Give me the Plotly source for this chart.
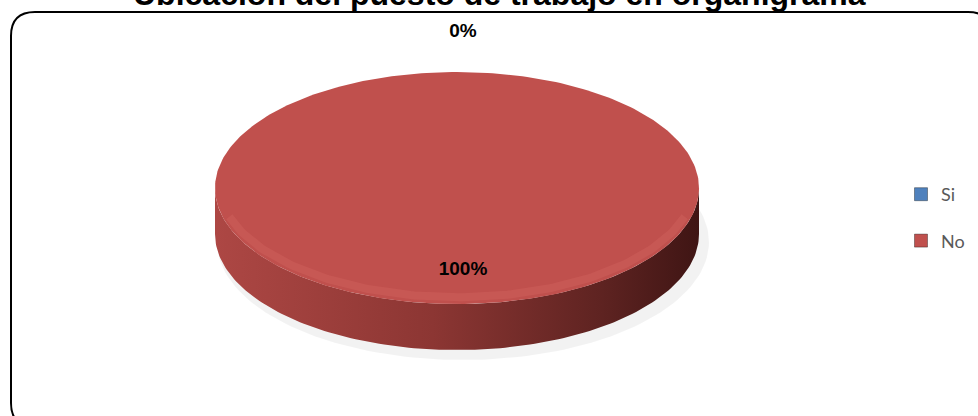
import numpy as np
import plotly.graph_objects as go

# ---- data ----
title_text = "Ubicación del puesto de trabajo en organigrama"
categories = ["Si", "No"]
values = [0, 100]
top_colors = ["#4F81BD", "#C0504D"]
side_scales = [
    [[0, "#5f8cc4"], [0.5, "#3d6799"], [1, "#1f3a5c"]],
    [[0, "#ad4744"], [0.45, "#8c3633"], [0.8, "#5e2321"], [1, "#3f1514"]],
]

# ---- geometry (pixel space) ----
W, H = 978, 416
cx, cy, rx, ry, depth = 457, 188, 242, 116, 46


def pt(theta, dy=0.0, scale=1.0):
    # theta: radians clockwise from 12 o'clock
    return cx + scale * rx * np.sin(theta), cy + dy - scale * ry * np.cos(theta)


fig = go.Figure()

total = float(sum(values))
fracs = [v / total for v in values]
starts = np.concatenate([[0.0], np.cumsum(fracs)[:-1]]) * 2 * np.pi
ends = np.cumsum(fracs) * 2 * np.pi

# soft shadow under the pie
sh = np.linspace(0, 2 * np.pi, 200)
fig.add_trace(go.Scatter(
    x=cx + 6 + (rx + 4) * np.sin(sh), y=cy + depth + 8 - (ry + 2) * np.cos(sh),
    fill="toself", fillcolor="rgba(0,0,0,0.05)", line=dict(width=0),
    mode="lines", hoverinfo="skip", showlegend=False))

# side walls (front half only: theta in [pi/2, 3pi/2])
for i, (a, b) in enumerate(zip(starts, ends)):
    lo, hi = max(a, np.pi / 2), min(b, 3 * np.pi / 2)
    if hi <= lo:
        continue
    t = np.linspace(lo, hi, 150)
    xt, yt = pt(t)
    xb, yb = pt(t[::-1], dy=depth)
    fig.add_trace(go.Scatter(
        x=np.concatenate([xt, xb, xt[:1]]), y=np.concatenate([yt, yb, yt[:1]]),
        fill="toself", mode="lines", line=dict(width=0),
        fillgradient=dict(type="horizontal", colorscale=side_scales[i]),
        hoverinfo="skip", showlegend=False))

# top faces
for i, (a, b) in enumerate(zip(starts, ends)):
    if b - a <= 0:
        continue
    t = np.linspace(a, b, 300)
    xs, ys = pt(t)
    if b - a < 2 * np.pi - 1e-9:
        xs = np.concatenate([[cx], xs, [cx]])
        ys = np.concatenate([[cy], ys, [cy]])
    fig.add_trace(go.Scatter(
        x=xs, y=ys, fill="toself", fillcolor=top_colors[i], mode="lines",
        line=dict(width=0), hoverinfo="skip", showlegend=False))
    # soft bevel highlight along front rim
    lo, hi = max(a, np.pi / 2 + 0.3), min(b, 3 * np.pi / 2 - 0.3)
    if hi > lo:
        th = np.linspace(lo, hi, 150)
        hx, hy = pt(th, dy=-5, scale=0.985)
        fig.add_trace(go.Scatter(
            x=hx, y=hy, mode="lines",
            line=dict(color="rgba(230,120,115,0.2)", width=8),
            hoverinfo="skip", showlegend=False))

# data labels
lx, ly, lt = [], [], []
for f, a, b in zip(fracs, starts, ends):
    mid = (a + b) / 2
    sc = 1.35 if f < 0.05 else 0.7
    x, y = pt(mid, scale=sc)
    lx.append(x + 6)
    ly.append(y + 1)
    lt.append(f"{f * 100:.0f}%")
fig.add_trace(go.Scatter(
    x=lx, y=ly, text=lt, mode="text",
    textfont=dict(family="Liberation Sans, Arial", size=19, color="black", weight="bold"),
    hoverinfo="skip", showlegend=False))

# legend entries
for i, c in enumerate(categories):
    fig.add_trace(go.Scatter(
        x=[None], y=[None], mode="markers", name=c, legendgroup=c,
        marker=dict(symbol="square", size=13, color=top_colors[i],
                    line=dict(color="rgba(0,0,0,0.35)", width=1))))

# rounded border
x0, y0, x1, y1, r = 11, 12, 992, 427, 24
path = (f"M {x0+r},{y0} L {x1-r},{y0} Q {x1},{y0} {x1},{y0+r} L {x1},{y1-r} "
        f"Q {x1},{y1} {x1-r},{y1} L {x0+r},{y1} Q {x0},{y1} {x0},{y1-r} "
        f"L {x0},{y0+r} Q {x0},{y0} {x0+r},{y0} Z")
fig.add_shape(type="path", path=path, xref="x", yref="y",
              line=dict(color="black", width=2), layer="below")

fig.add_annotation(
    text=f"<b>{title_text}</b>", xref="paper", yref="paper",
    x=499 / W, y=1 + 6 / H, xanchor="center", yanchor="middle", showarrow=False,
    font=dict(family="Liberation Sans, Arial", size=32, color="black"))

fig.update_layout(
    width=W, height=H, margin=dict(l=0, r=0, t=0, b=0),
    paper_bgcolor="white", plot_bgcolor="white",
    xaxis=dict(range=[0, W], visible=False, fixedrange=True),
    yaxis=dict(range=[H, 0], visible=False, fixedrange=True),
    legend=dict(x=901 / W, y=(H - 176) / H, xanchor="left", yanchor="top",
                font=dict(family="Lato, Open Sans, sans-serif", size=18, color="#595959"),
                tracegroupgap=20, itemwidth=30, bgcolor="rgba(0,0,0,0)"),
    showlegend=True,
)

fig.write_html(
    "out.html",
    config={"displayModeBar": False},
    post_script="document.body.style.margin='0';document.body.style.overflow='hidden';",
)
